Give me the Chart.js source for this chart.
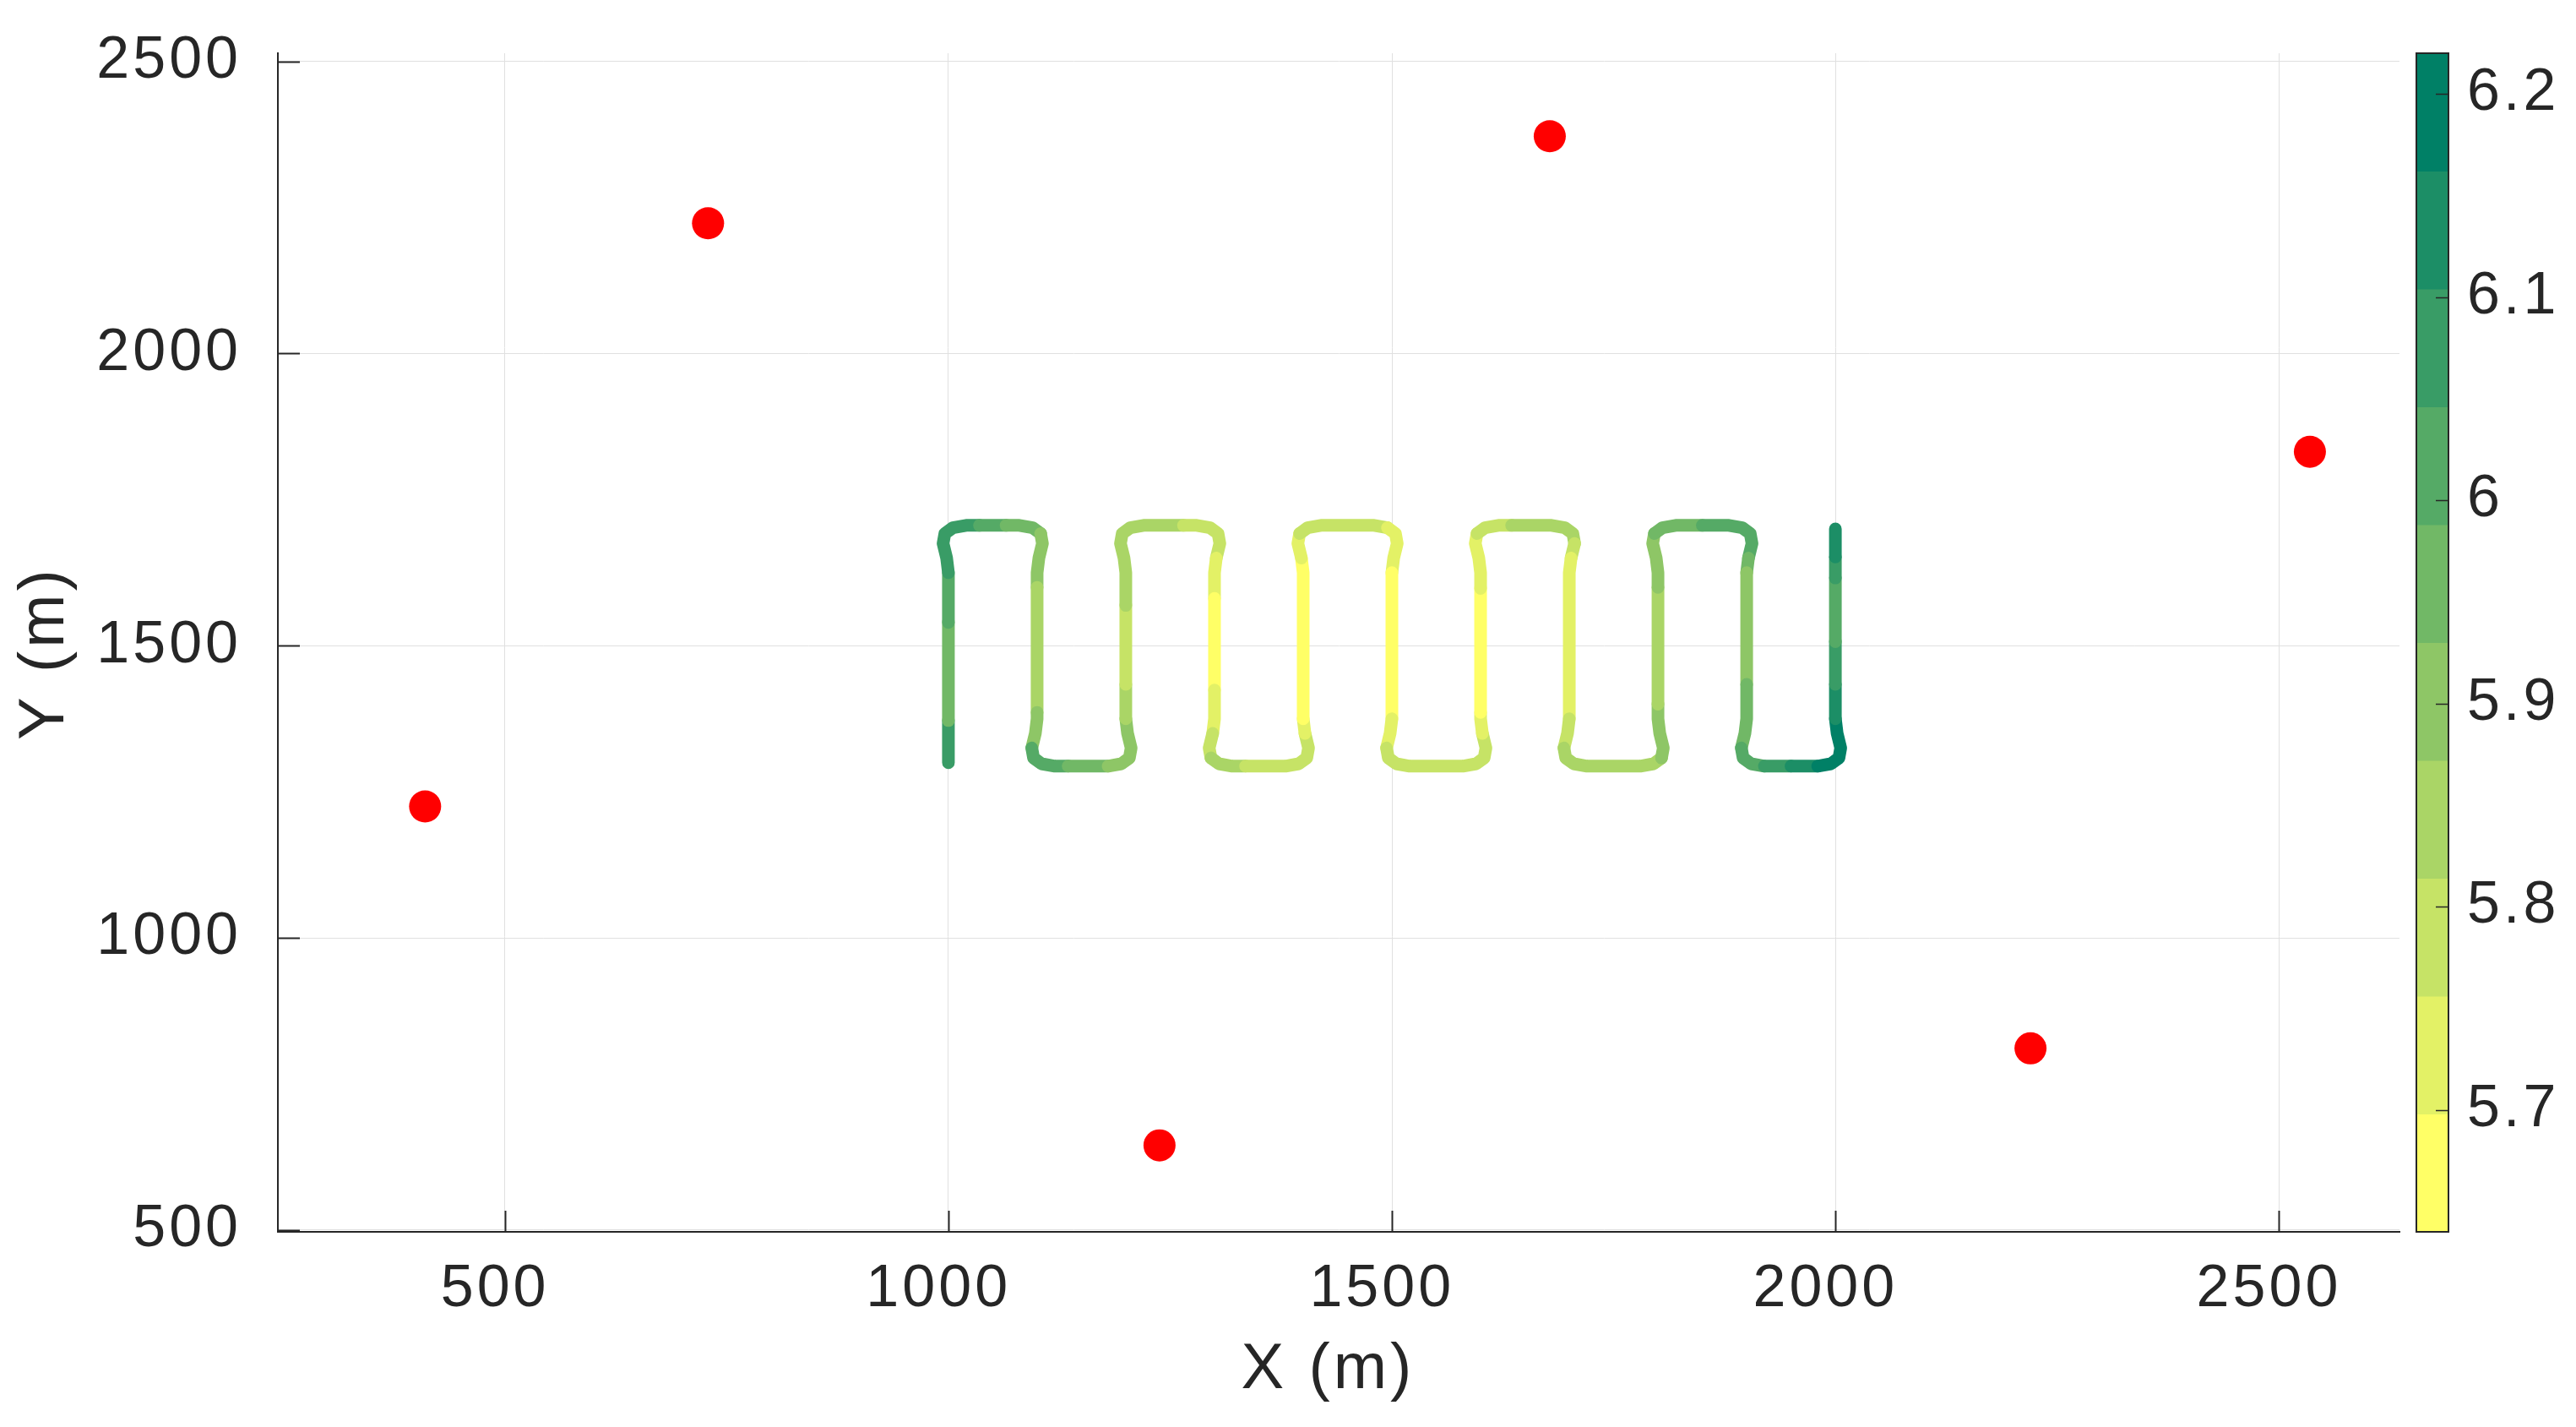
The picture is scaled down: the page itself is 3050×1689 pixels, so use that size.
<!DOCTYPE html>
<html>
<head>
<meta charset="utf-8">
<script src="https://cdn.jsdelivr.net/npm/chart.js@4.4.1/dist/chart.umd.min.js"></script>
<style>
  html, body { margin: 0; padding: 0; background: #fff; }
</style>
</head>
<body>
<canvas id="chart" width="3050" height="1689"></canvas>
<script>
// Anchor positions (red dots)
const anchorX = [410, 729, 1678, 2535, 1238, 2220];
const anchorY = [1225, 2223, 2372, 1832, 645, 811];

// Flight path, one row per leg / turn, with the colour value of each point
const pathX = [
  1000, 1000, 1000,
  1000, 998, 994, 996, 1005, 1020, 1035, 1050, 1065, 1080, 1095, 1104, 1106, 1102, 1100,
  1100, 1100,
  1100, 1098, 1094, 1096, 1105, 1120, 1135, 1150, 1165, 1180, 1195, 1204, 1206, 1202, 1200,
  1200, 1200,
  1200, 1198, 1194, 1196, 1205, 1220, 1235, 1250, 1265, 1280, 1295, 1304, 1306, 1302, 1300,
  1300, 1300,
  1300, 1298, 1294, 1296, 1305, 1320, 1335, 1350, 1365, 1380, 1395, 1404, 1406, 1402, 1400,
  1400, 1398, 1394, 1396, 1405, 1420, 1435, 1450, 1465, 1480, 1495, 1504, 1506, 1502, 1500,
  1500, 1498, 1494, 1496, 1505, 1520, 1535, 1550, 1565, 1580, 1595, 1604, 1606, 1602, 1600,
  1600, 1600,
  1600, 1598, 1594, 1596, 1605, 1620, 1635, 1650, 1665, 1680, 1695, 1704, 1706, 1702, 1700,
  1700, 1698, 1694, 1696, 1705, 1720, 1735, 1750, 1765, 1780, 1795, 1804, 1806, 1802, 1800,
  1800, 1800,
  1800, 1798, 1794, 1796, 1805, 1820, 1835, 1850, 1865, 1880, 1895, 1904, 1906, 1902, 1900,
  1900,
  1900, 1898, 1894, 1896, 1905, 1920, 1935, 1950, 1965, 1980, 1995, 2004, 2006, 2002, 2000,
  2000, 2000, 2000, 2000, 2000
];
const pathY = [
  1300, 1372, 1540,
  1625, 1650, 1675, 1692, 1702, 1706, 1706, 1706, 1706, 1706, 1702, 1692, 1675, 1650, 1625,
  1600, 1386,
  1375, 1350, 1325, 1308, 1298, 1294, 1294, 1294, 1294, 1294, 1298, 1308, 1325, 1350, 1375,
  1434, 1569,
  1625, 1650, 1675, 1692, 1702, 1706, 1706, 1706, 1706, 1706, 1702, 1692, 1675, 1650, 1625,
  1581, 1424,
  1375, 1350, 1325, 1308, 1298, 1294, 1294, 1294, 1294, 1294, 1298, 1308, 1325, 1350, 1375,
  1625, 1650, 1675, 1692, 1702, 1706, 1706, 1706, 1706, 1706, 1702, 1692, 1675, 1650, 1625,
  1375, 1350, 1325, 1308, 1298, 1294, 1294, 1294, 1294, 1294, 1298, 1308, 1325, 1350, 1375,
  1386, 1598,
  1625, 1650, 1675, 1692, 1702, 1706, 1706, 1706, 1706, 1706, 1702, 1692, 1675, 1650, 1625,
  1375, 1350, 1325, 1308, 1298, 1294, 1294, 1294, 1294, 1294, 1298, 1308, 1325, 1350, 1375,
  1400, 1600,
  1625, 1650, 1675, 1692, 1702, 1706, 1706, 1706, 1706, 1706, 1702, 1692, 1675, 1650, 1625,
  1434,
  1375, 1350, 1325, 1308, 1298, 1294, 1294, 1294, 1294, 1294, 1298, 1308, 1325, 1350, 1375,
  1434, 1507, 1616, 1652, 1700
];
const pathV = [
  6.07, 5.96, 6.02,
  6.07, 6.07, 6.07, 6.07, 6.07, 6.07, 6.02, 6.02, 5.96, 5.96, 5.96, 5.90, 5.90, 5.90, 5.90,
  5.84, 5.90,
  5.90, 5.90, 6.02, 6.02, 6.02, 6.02, 5.96, 5.96, 5.96, 5.90, 5.90, 5.90, 5.90, 5.90, 5.84,
  5.785, 5.84,
  5.84, 5.84, 5.84, 5.84, 5.84, 5.84, 5.84, 5.84, 5.785, 5.785, 5.785, 5.785, 5.785, 5.73, 5.73,
  5.67, 5.73,
  5.73, 5.785, 5.785, 5.84, 5.84, 5.84, 5.785, 5.785, 5.785, 5.785, 5.785, 5.785, 5.785, 5.73, 5.67,
  5.67, 5.73, 5.73, 5.785, 5.785, 5.785, 5.785, 5.785, 5.785, 5.785, 5.73, 5.73, 5.73, 5.73, 5.67,
  5.73, 5.73, 5.785, 5.785, 5.785, 5.785, 5.785, 5.785, 5.785, 5.785, 5.785, 5.785, 5.785, 5.73, 5.73,
  5.67, 5.73,
  5.73, 5.73, 5.73, 5.785, 5.785, 5.785, 5.84, 5.84, 5.84, 5.84, 5.84, 5.84, 5.785, 5.73, 5.73,
  5.785, 5.785, 5.84, 5.84, 5.84, 5.84, 5.84, 5.84, 5.84, 5.84, 5.84, 5.90, 5.90, 5.90, 5.90,
  5.84, 5.90,
  5.90, 5.90, 5.90, 5.96, 5.96, 5.96, 5.96, 6.02, 6.02, 6.02, 6.02, 6.02, 6.02, 5.96, 5.90,
  5.96,
  5.96, 5.96, 6.02, 6.02, 6.02, 6.07, 6.07, 6.13, 6.13, 6.19, 6.19, 6.19, 6.19, 6.19, 6.13,
  6.07, 6.02, 6.07, 6.13, 6.13
];

// Axis ticks
const xTicks = [500, 1000, 1500, 2000, 2500];
const yTicks = [500, 1000, 1500, 2000, 2500];
const cbTicks = [5.7, 5.8, 5.9, 6, 6.1, 6.2];

// Colour bar: band edges (low to high) and summer colours
const cbEdges = [5.64, 5.698, 5.756, 5.814, 5.872, 5.93, 5.988, 6.046, 6.104, 6.162, 6.22];
const cbColors = ["#FFFF66", "#E3F166", "#C6E366", "#AAD566", "#8EC666",
                  "#71B866", "#55AA66", "#399C66", "#1C8E66", "#008066"];

const FONT = "'Liberation Sans', Arial, Helvetica, sans-serif";
const INK = "#262626";

function colorFor(v) {
    for (let i = 0; i < cbColors.length; i++) {
        if (v < cbEdges[i + 1]) return cbColors[i];
    }
    return cbColors[cbColors.length - 1];
}

const pathData = pathX.map((x, i) => ({ x: x, y: pathY[i] }));
const anchorData = anchorX.map((x, i) => ({ x: x, y: anchorY[i] }));

// inward ticks like matlab + the colour bar
const axesExtras = {
    id: "axesExtras",
    beforeDraw(chart) {
        // matlab text is a bit more spread out
        chart.ctx.letterSpacing = "4px";
    },
    afterDraw(chart) {
        const { ctx, chartArea, scales } = chart;
        ctx.save();
        ctx.strokeStyle = INK;
        ctx.lineWidth = 2;
        scales.x.ticks.forEach(t => {
            const px = Math.round(scales.x.getPixelForValue(t.value)) + 0.5;
            ctx.beginPath();
            ctx.moveTo(px, chartArea.bottom);
            ctx.lineTo(px, chartArea.bottom - 25);
            ctx.stroke();
        });
        scales.y.ticks.forEach(t => {
            const py = Math.round(scales.y.getPixelForValue(t.value)) + 0.5;
            ctx.beginPath();
            ctx.moveTo(chartArea.left, py);
            ctx.lineTo(chartArea.left + 26, py);
            ctx.stroke();
        });

        // colour bar
        const cb = scales.cb;
        const barLeft = chartArea.right + 20;
        const barW = 38;
        for (let i = 0; i < cbColors.length; i++) {
            const yTop = cb.getPixelForValue(cbEdges[i + 1]);
            const yBot = cb.getPixelForValue(cbEdges[i]);
            ctx.fillStyle = cbColors[i];
            ctx.fillRect(barLeft, yTop, barW, yBot - yTop + 0.5);
        }
        ctx.lineWidth = 2;
        ctx.strokeRect(barLeft, cb.top, barW, cb.bottom - cb.top);
        ctx.lineWidth = 1.5;
        cb.ticks.forEach(t => {
            const py = Math.round(cb.getPixelForValue(t.value)) + 0.5;
            ctx.beginPath();
            ctx.moveTo(barLeft + barW - 15, py);
            ctx.lineTo(barLeft + barW, py);
            ctx.stroke();
        });
        ctx.restore();
        ctx.letterSpacing = "0px";
    }
};

const chart = new Chart(document.getElementById("chart"), {
    type: "scatter",
    data: {
        datasets: [
            {
                type: "line",
                data: pathData,
                showLine: true,
                fill: false,
                tension: 0,
                pointRadius: 0,
                borderWidth: 15,
                borderCapStyle: "round",
                borderJoinStyle: "round",
                segment: {
                    borderColor: c => colorFor(pathV[c.p0DataIndex])
                }
            },
            {
                data: anchorData,
                pointRadius: 19,
                pointHoverRadius: 19,
                backgroundColor: "#FF0000",
                borderWidth: 0
            }
        ]
    },
    options: {
        responsive: false,
        animation: false,
        devicePixelRatio: 1,
        layout: { padding: { top: 63, left: 0, right: 0, bottom: 0 } },
        plugins: { legend: { display: false }, tooltip: { enabled: false } },
        scales: {
            x: {
                type: "linear",
                position: "bottom",
                min: 244,
                max: 2636,
                afterBuildTicks: s => { s.ticks = xTicks.map(v => ({ value: v })); },
                afterFit: s => { s.height = 231; },
                grid: { color: "#e0e0e0", lineWidth: 1, drawTicks: false },
                border: { display: true, color: INK, width: 2 },
                ticks: {
                    color: INK,
                    font: { family: FONT, size: 70 },
                    padding: 27,
                    maxRotation: 0,
                    // trailing space: matlab labels sit a little left of the tick
                    callback: v => String(v) + " "
                },
                title: {
                    display: true,
                    text: "X (m) ",
                    color: INK,
                    font: { family: FONT, size: 76 },
                    padding: { top: 0, bottom: 21 }
                }
            },
            y: {
                type: "linear",
                position: "left",
                min: 497,
                max: 2514,
                afterBuildTicks: s => { s.ticks = yTicks.map(v => ({ value: v })); },
                afterFit: s => { s.width = 329; },
                // invisible outer tick keeps the labels off the axis without top padding
                grid: { color: "#e0e0e0", lineWidth: 1, drawTicks: true, tickLength: 38, tickColor: "rgba(0,0,0,0)" },
                border: { display: true, color: INK, width: 2 },
                ticks: {
                    color: INK,
                    font: { family: FONT, size: 70 },
                    padding: 5,
                    callback: v => String(v)
                },
                title: {
                    display: true,
                    text: "Y (m) ",
                    color: INK,
                    font: { family: FONT, size: 76 },
                    padding: { top: 8, bottom: 0 }
                }
            },
            cb: {
                type: "linear",
                axis: "y",
                position: "right",
                min: 5.64,
                max: 6.22,
                afterBuildTicks: s => { s.ticks = cbTicks.map(v => ({ value: v })); },
                afterFit: s => { s.width = 209; },
                grid: { display: false, drawTicks: true, tickLength: 75 },
                border: { display: false },
                ticks: {
                    color: INK,
                    font: { family: FONT, size: 70 },
                    padding: 5,
                    callback: v => String(v)
                }
            }
        }
    },
    plugins: [axesExtras]
});
</script>
</body>
</html>
